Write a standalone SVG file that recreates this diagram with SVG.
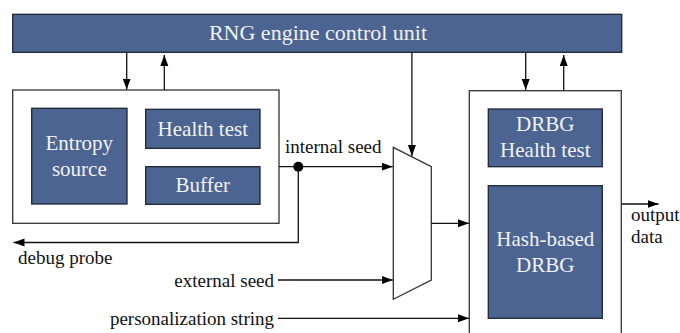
<svg xmlns="http://www.w3.org/2000/svg" width="680" height="333" viewBox="0 0 680 333">
  <style>
    .blk { fill: #4b6491; stroke: #1e2535; stroke-width: 1.3; }
    .frame { fill: #ffffff; stroke: #333333; stroke-width: 1.3; }
    .wire { fill: none; stroke: #111111; stroke-width: 1.3; }
    .in { font-family: 'Liberation Serif', serif; font-size: 21px; fill: #f2f2f2; text-anchor: middle; }
    .top { font-size: 22px; }
    .lbl { font-family: 'Liberation Serif', serif; font-size: 19px; fill: #111111; }
    .end { text-anchor: end; }
  </style>
  <defs>
    <marker id="arr" markerUnits="userSpaceOnUse" markerWidth="12" markerHeight="9" refX="11" refY="4" orient="auto">
      <path d="M0,0 L11,4 L0,8 z" fill="#000000"/>
    </marker>
  </defs>
  <rect width="680" height="333" fill="#ffffff"/>

  <!-- control unit bar -->
  <g id="control-unit">
    <rect class="blk" x="12.7" y="14.3" width="609" height="38"/>
    <text class="in top" x="318" y="40">RNG engine control unit</text>
  </g>

  <!-- entropy source subsystem -->
  <g id="entropy-block">
    <rect class="frame" x="12.7" y="90" width="266.3" height="133.3"/>
  </g>
  <g id="entropy-source">
    <rect class="blk" x="31.7" y="108.3" width="95.3" height="95.7"/>
    <text class="in" x="79.3" y="150">Entropy</text>
    <text class="in" x="79.3" y="176">source</text>
  </g>
  <g id="health-test">
    <rect class="blk" x="145.7" y="109.3" width="114.3" height="39"/>
    <text class="in" x="202.8" y="136">Health test</text>
  </g>
  <g id="buffer">
    <rect class="blk" x="145.7" y="166.7" width="114.3" height="37.6"/>
    <text class="in" x="202.8" y="192">Buffer</text>
  </g>

  <!-- seed multiplexer -->
  <g id="mux">
    <polygon class="frame" points="393.3,147.3 431.3,166.7 431.3,280 393.3,299.3"/>
  </g>

  <!-- DRBG subsystem -->
  <g id="drbg-block">
    <rect class="frame" x="469.3" y="90.7" width="152" height="260"/>
  </g>
  <g id="drbg-health-test">
    <rect class="blk" x="488.3" y="109" width="114" height="57.7"/>
    <text class="in" x="545.3" y="131">DRBG</text>
    <text class="in" x="545.3" y="157">Health test</text>
  </g>
  <g id="hash-drbg">
    <rect class="blk" x="488.3" y="185.7" width="114" height="132.6"/>
    <text class="in" x="545.3" y="246">Hash-based</text>
    <text class="in" x="545.3" y="272">DRBG</text>
  </g>

  <!-- connectors -->
  <g id="connectors">
    <line class="wire" x1="126.7" y1="52.3" x2="126.7" y2="89.5" marker-end="url(#arr)"/>
    <line class="wire" x1="164.3" y1="90" x2="164.3" y2="55" marker-end="url(#arr)"/>
    <line class="wire" x1="525.7" y1="52.3" x2="525.7" y2="90" marker-end="url(#arr)"/>
    <line class="wire" x1="563.7" y1="90.7" x2="563.7" y2="55" marker-end="url(#arr)"/>
    <line class="wire" x1="411.9" y1="52.3" x2="411.9" y2="156" marker-end="url(#arr)"/>
    <line class="wire" x1="279" y1="166.7" x2="392.7" y2="166.7" marker-end="url(#arr)"/>
    <circle cx="298.3" cy="166.7" r="5" fill="#000000"/>
    <polyline class="wire" points="298.3,166.7 298.3,242.5 13.5,242.5" marker-end="url(#arr)"/>
    <line class="wire" x1="278" y1="280" x2="392.7" y2="280" marker-end="url(#arr)"/>
    <line class="wire" x1="431.3" y1="223.3" x2="469" y2="223.3" marker-end="url(#arr)"/>
    <line class="wire" x1="278" y1="318.3" x2="469" y2="318.3" marker-end="url(#arr)"/>
    <line class="wire" x1="621.3" y1="204" x2="658.5" y2="204" marker-end="url(#arr)"/>
  </g>

  <!-- signal labels -->
  <g id="labels">
    <text class="lbl" x="285" y="153">internal seed</text>
    <text class="lbl" x="18" y="264">debug probe</text>
    <text class="lbl end" x="274" y="287">external seed</text>
    <text class="lbl end" x="274" y="325">personalization string</text>
    <text class="lbl" x="631" y="221">output</text>
    <text class="lbl" x="631" y="243">data</text>
  </g>
</svg>
